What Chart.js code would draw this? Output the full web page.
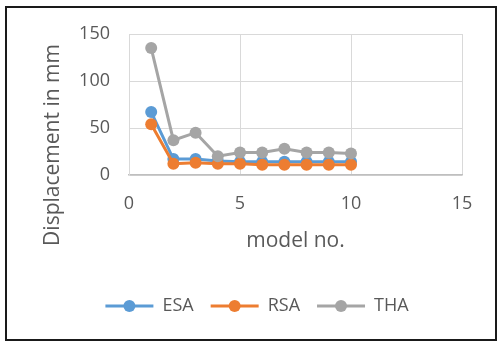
<!DOCTYPE html>
<html>
<head>
<meta charset="utf-8">
<script src="https://cdn.jsdelivr.net/npm/chart.js@4/dist/chart.umd.min.js"></script>
<style>
    html, body { margin: 0; padding: 0; background: #fff; }
    #wrap { position: relative; width: 498px; height: 342px; }
    #frame {
        position: absolute; left: 5px; top: 6px; width: 488px; height: 331px;
        border: 2px solid #1a1a1a; pointer-events: none;
    }
    canvas { position: absolute; left: 0; top: 0; }
</style>
</head>
<body>
<div id="wrap">
    <canvas id="chart" width="498" height="342"></canvas>
    <div id="frame"></div>
</div>
<script>
"use strict";

const modelNo = [1, 2, 3, 4, 5, 6, 7, 8, 9, 10];
const esa = [67, 17, 17, 15, 14, 14, 14, 14, 14, 14];
const rsa = [54, 12, 13, 12, 12, 11, 11, 11, 11, 11];
const tha = [135, 37, 45, 20, 24, 24, 28, 24, 24, 23];
const seriesNames = ['ESA', 'RSA', 'THA'];
const seriesColors = ['#5B9BD5', '#ED7D31', '#A5A5A5'];
const yTitle = 'Displacement in mm';

const textColor = '#595959';
const fontFamily = '"Open Sans", sans-serif';

function toPoints(values) {
    return modelNo.map((x, i) => ({ x: x, y: values[i] }));
}

function makeDataset(i, values) {
    return {
        label: seriesNames[i],
        data: toPoints(values),
        showLine: true,
        borderColor: seriesColors[i],
        backgroundColor: seriesColors[i],
        borderWidth: 3,
        pointRadius: 6,
        pointHoverRadius: 6,
        pointBorderWidth: 0,
        order: 3 - i // later series on top, like Excel
    };
}

// draws the marker dot over each legend line
const legendMarkers = {
    id: 'legendMarkers',
    afterDraw(chart) {
        const legend = chart.legend;
        if (!legend || !legend.legendHitBoxes) return;
        const ctx = chart.ctx;
        const boxW = legend.options.labels.boxWidth;
        legend.legendHitBoxes.forEach((box, i) => {
            const item = legend.legendItems[i];
            ctx.save();
            ctx.fillStyle = item.fillStyle;
            ctx.beginPath();
            ctx.arc(box.left + boxW / 2, box.top + box.height / 2, 6, 0, Math.PI * 2);
            ctx.fill();
            ctx.restore();
        });
    }
};

// Excel centres the value-axis title lower than the plot, so draw it by hand
const sideTitle = {
    id: 'sideTitle',
    afterDraw(chart) {
        const ctx = chart.ctx;
        ctx.save();
        ctx.translate(53, 145);
        ctx.rotate(-Math.PI / 2);
        ctx.font = '21px ' + fontFamily;
        ctx.fillStyle = textColor;
        ctx.textAlign = 'center';
        ctx.textBaseline = 'middle';
        ctx.fillText(yTitle, 0, 0);
        ctx.restore();
    }
};

new Chart(document.getElementById('chart'), {
    type: 'scatter',
    data: {
        datasets: [
            makeDataset(0, esa),
            makeDataset(1, rsa),
            makeDataset(2, tha)
        ]
    },
    options: {
        responsive: false,
        animation: false,
        layout: { padding: { left: 40, right: 24, top: 34, bottom: 17 } },
        plugins: {
            tooltip: { enabled: false },
            legend: {
                position: 'bottom',
                labels: {
                    sort: (a, b) => a.datasetIndex - b.datasetIndex,
                    boxWidth: 48,
                    boxHeight: 3,
                    padding: 17,
                    color: textColor,
                    font: { family: fontFamily, size: 18 },
                    generateLabels: chart => {
                        const items = Chart.defaults.plugins.legend.labels.generateLabels(chart);
                        items.forEach(it => {
                            it.fillStyle = seriesColors[it.datasetIndex];
                            it.lineWidth = 0;
                            it.strokeStyle = 'rgba(0,0,0,0)';
                        });
                        return items;
                    }
                }
            }
        },
        scales: {
            x: {
                type: 'linear',
                min: 0,
                max: 15,
                ticks: {
                    stepSize: 5,
                    padding: 18,
                    color: textColor,
                    font: { family: fontFamily, size: 18 }
                },
                grid: { color: '#d9d9d9', lineWidth: 1, drawTicks: false },
                border: { color: '#bfbfbf', width: 1.5 },
                title: {
                    display: true,
                    text: 'model no.',
                    color: textColor,
                    font: { family: fontFamily, size: 21 },
                    padding: { top: 0, bottom: 26 }
                },
                afterFit: scale => { scale.height = 105; }
            },
            y: {
                min: 0,
                max: 150,
                ticks: {
                    stepSize: 50,
                    padding: 19,
                    color: textColor,
                    font: { family: fontFamily, size: 18 }
                },
                grid: { color: '#d9d9d9', lineWidth: 1, drawTicks: false },
                border: { color: '#d9d9d9' },
                afterFit: scale => { scale.width = 89; }
            },
            // empty spacer so the plot ends where Excel's does
            spacer: {
                type: 'linear',
                position: 'right',
                ticks: { display: false },
                grid: { display: false },
                border: { display: false },
                afterFit: scale => { scale.width = 12; }
            }
        }
    },
    plugins: [legendMarkers, sideTitle]
});
</script>
</body>
</html>
